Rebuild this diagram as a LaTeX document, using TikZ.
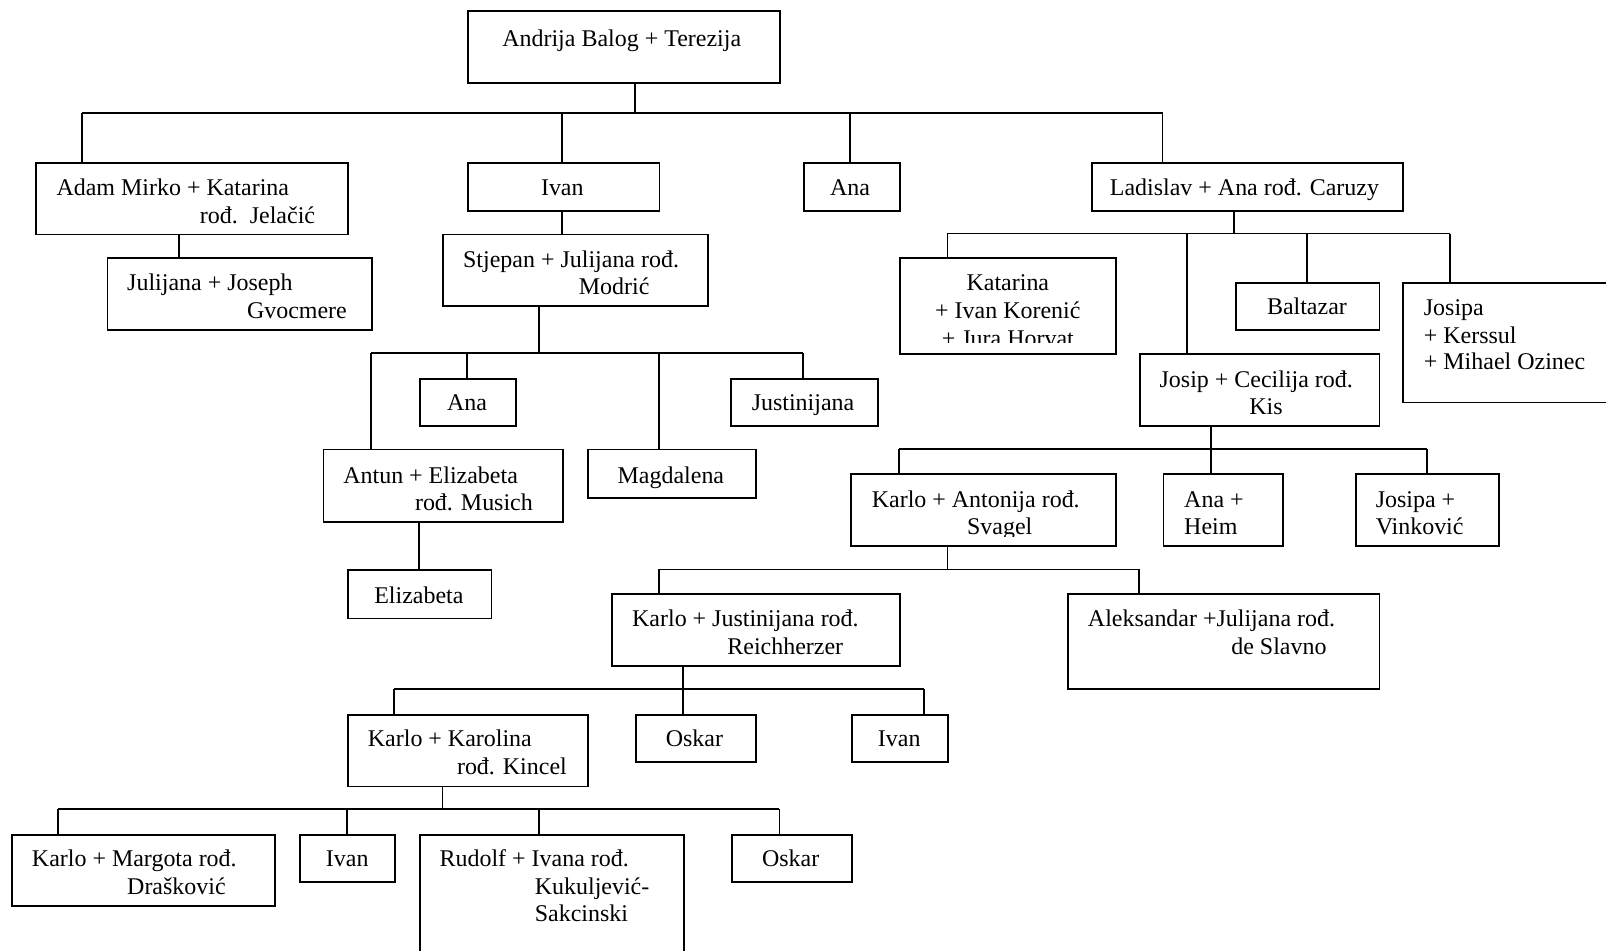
\documentclass[tikz,border=0pt]{standalone}
\usepackage{fontspec}
\setmainfont{Liberation Serif}
\tikzset{
  famnode/.style={draw, line width=1.8pt, rectangle, inner sep=0pt, anchor=north west},
  lbl/.style={anchor=base west, inner sep=0pt},
  clbl/.style={anchor=base, inner sep=0pt},
  conn/.style={line width=1.8pt}
}
% box: name, x, y, w, h
\newcommand{\famBox}[5]{\node[famnode, minimum width=#4pt, minimum height=#5pt] (#1) at (#2,#3) {};}
% clipped text inside box: [bottom margin], name, content
\newcommand{\famTxt}[3][10]{\begin{scope}\clip ([xshift=2pt,yshift=-2pt]#2.north west) rectangle ([xshift=-2pt,yshift=#1pt]#2.south east); #3 \end{scope}}
% bus: parent, parent x, bus y, xmin, xmax, list x/child
\newcommand{\famBus}[6]{%
  \draw[conn] (#2,#3 |- #1.south) -- (#2,#3);
  \draw[conn] (#4,#3) -- (#5,#3);
  \foreach \xx/\cc in {#6} {\draw[conn] (\xx,#3) -- (\xx,#3 |- \cc.north);}
}
\begin{document}
\begin{tikzpicture}[x=1pt,y=-1pt,font=\fontsize{23.4}{27}\selectfont]
\useasboundingbox (0,0) rectangle (1568,928);
\fill[white] (0,0) rectangle (1568,928);
\clip (0,0) rectangle (1568,928);

% boxes
\famBox{top}{456}{10}{305}{70}
\famBox{adam}{34}{158}{305}{70}
\famBox{jul}{104}{251}{258}{70}
\famBox{ivan}{456}{158}{187}{47}
\famBox{stj}{432}{228}{258}{70}
\famBox{anaS}{409}{369}{94}{46}
\famBox{just}{713}{369}{143}{46}
\famBox{antun}{315}{438}{234}{71}
\famBox{magd}{573}{438}{164}{47}
\famBox{eliz}{339}{556}{140}{47}
\famBox{anaT}{784}{158}{94}{47}
\famBox{lad}{1065}{158}{304}{47}
\famBox{kat}{878}{251}{211}{94}
\famBox{balt}{1206}{275}{140}{46}
\famBox{josipa}{1369}{275}{220}{117}
\famBox{josip}{1112}{345}{234}{70}
\famBox{karloA}{830}{462}{259}{70}
\famBox{anaH}{1135}{462}{117}{70}
\famBox{josV}{1323}{462}{140}{70}
\famBox{karloJ}{597}{579}{281}{70}
\famBox{alek}{1042}{579}{304}{93}
\famBox{karloK}{339}{697}{234}{70}
\famBox{oskarA}{620}{697}{117}{46}
\famBox{ivanB}{831}{697}{94}{46}
\famBox{karloM}{11}{814}{257}{70}
\famBox{ivanC}{292}{814}{93}{46}
\famBox{rudolf}{409}{814}{258}{140}
\famBox{oskarB}{714}{814}{117}{46}

% texts
\famTxt{top}{\node[clbl] (t-top) at (607,45) {Andrija Balog + Terezija};}
\famTxt{adam}{\node[lbl] (t-adam1) at (55,191) {Adam Mirko + Katarina};
  \node[lbl] (t-adam2) at (195,218) {rođ.\ \ Jelačić};}
\famTxt{jul}{\node[lbl] (t-jul1) at (124,284) {Julijana + Joseph};
  \node[lbl] (t-jul2) at (241,311) {Gvocmere};}
\famTxt{ivan}{\node[clbl] (t-ivan) at (549,191) {Ivan};}
\famTxt{stj}{\node[lbl] (t-stj1) at (452,261) {Stjepan + Julijana rođ.};
  \node[lbl] (t-stj2) at (565,288) {Modrić};}
\famTxt{anaS}{\node[clbl] (t-anaS) at (456,401) {Ana};}
\famTxt{just}{\node[clbl] (t-just) at (784,401) {Justinijana};}
\famTxt{antun}{\node[lbl] (t-antun1) at (335,472) {Antun + Elizabeta};
  \node[lbl] (t-antun2) at (405,498) {rođ. Musich};}
\famTxt{magd}{\node[clbl] (t-magd) at (655,472) {Magdalena};}
\famTxt{eliz}{\node[clbl] (t-eliz) at (409,589) {Elizabeta};}
\famTxt{anaT}{\node[clbl] (t-anaT) at (830,191) {Ana};}
\famTxt{lad}{\node[clbl] (t-lad) at (1215,191) {Ladislav + Ana rođ. Caruzy};}
\famTxt[12]{kat}{\node[clbl] (t-kat1) at (984,284) {Katarina};
  \node[clbl] (t-kat2) at (984,311) {+ Ivan Korenić};
  \node[clbl] (t-kat3) at (984,338) {+ Jura Horvat};}
\famTxt{balt}{\node[clbl] (t-balt) at (1276,307) {Baltazar};}
\famTxt{josipa}{\node[lbl] (t-josipa1) at (1390,308) {Josipa};
  \node[lbl] (t-josipa2) at (1390,335) {+ Kerssul};
  \node[lbl] (t-josipa3) at (1390,361) {+ Mihael Ozinec};}
\famTxt{josip}{\node[lbl] (t-josip1) at (1132,378) {Josip + Cecilija rođ.};
  \node[clbl] (t-josip2) at (1236,405) {Kis};}
\famTxt{karloA}{\node[lbl] (t-karloA1) at (851,495) {Karlo + Antonija rođ.};
  \node[lbl] (t-karloA2) at (944,522) {Svagel};}
\famTxt{anaH}{\node[lbl] (t-anaH1) at (1156,495) {Ana +};
  \node[lbl] (t-anaH2) at (1156,522) {Heim};}
\famTxt{josV}{\node[lbl] (t-josV1) at (1343,495) {Josipa +};
  \node[lbl] (t-josV2) at (1343,522) {Vinković};}
\famTxt{karloJ}{\node[lbl] (t-karloJ1) at (617,612) {Karlo + Justinijana rođ.};
  \node[lbl] (t-karloJ2) at (710,639) {Reichherzer};}
\famTxt{alek}{\node[lbl] (t-alek1) at (1062,612) {Aleksandar +Julijana rođ.};
  \node[lbl] (t-alek2) at (1202,639) {de Slavno};}
\famTxt{karloK}{\node[lbl] (t-karloK1) at (359,729) {Karlo + Karolina};
  \node[lbl] (t-karloK2) at (446,756) {rođ. Kincel};}
\famTxt{oskarA}{\node[clbl] (t-oskarA) at (678,729) {Oskar};}
\famTxt{ivanB}{\node[clbl] (t-ivanB) at (878,729) {Ivan};}
\famTxt{karloM}{\node[lbl] (t-karloM1) at (31,846) {Karlo + Margota rođ.};
  \node[lbl] (t-karloM2) at (124,873) {Drašković};}
\famTxt{ivanC}{\node[clbl] (t-ivanC) at (339,846) {Ivan};}
\famTxt{rudolf}{\node[lbl] (t-rudolf1) at (429,846) {Rudolf + Ivana rođ.};
  \node[lbl] (t-rudolf2) at (522,873) {Kukuljević-};
  \node[lbl] (t-rudolf3) at (522,900) {Sakcinski};}
\famTxt{oskarB}{\node[clbl] (t-oskarB) at (772,846) {Oskar};}

% connectors
\famBus{top}{620}{110}{80}{1135}{80/adam,549/ivan,830/anaT,1135/lad}
\draw[conn] (175,0 |- adam.south) -- (175,0 |- jul.north);
\draw[conn] (549,0 |- ivan.south) -- (549,0 |- stj.north);
\famBus{stj}{526}{345}{362}{784}{362/antun,456/anaS,643/magd,784/just}
\draw[conn] (409,0 |- antun.south) -- (409,0 |- eliz.north);
\famBus{lad}{1205}{228}{925}{1416}{925/kat,1159/josip,1276/balt,1416/josipa}
\famBus{josip}{1182}{438}{878}{1393}{878/karloA,1182/anaH,1393/josV}
\famBus{karloA}{925}{556}{643}{1112}{643/karloJ,1112/alek}
\famBus{karloJ}{667}{673}{385}{902}{385/karloK,667/oskarA,902/ivanB}
\famBus{karloK}{432}{790}{57}{761}{57/karloM,339/ivanC,526/rudolf,761/oskarB}
\end{tikzpicture}
\end{document}
